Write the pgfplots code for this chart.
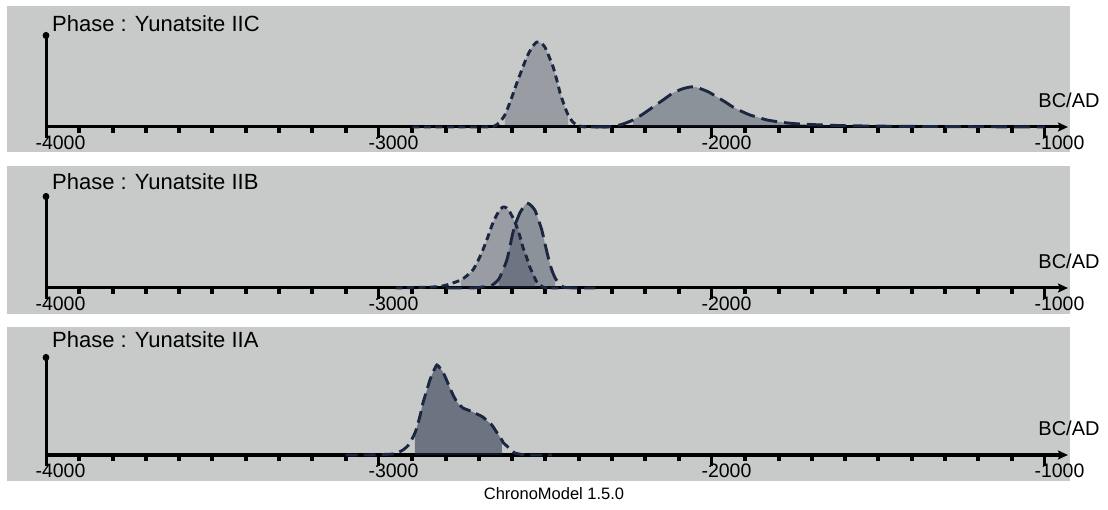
\documentclass[border=0pt]{standalone}
\usepackage{pgfplots}
\pgfplotsset{compat=1.18}
\usepackage{pgfplotstable}
\usepackage{fontspec}
\setmainfont{Liberation Sans}
\usetikzlibrary{arrows.meta}
\definecolor{bggray}{HTML}{C8CAC9}
\definecolor{navy}{HTML}{1B2640}

\pgfplotstableread{
x y
-2900 0
-2700 0
-2657 0.5
-2640 4
-2622 12
-2604 27
-2586 44
-2570 58
-2556 70
-2540 80
-2526 85
-2513 84
-2502 80
-2490 71
-2477 60
-2466 47
-2456 34
-2444 22
-2432 12
-2418 5
-2405 2
-2390 0.5
-2375 0
-2300 0
}\curveA

\pgfplotstableread{
x y
-2350 0
-2297 0.5
-2267 3
-2237 7
-2207 13
-2177 20
-2147 27
-2117 34
-2090 38
-2066 40
-2050 40
-2036 38.5
-2010 35
-1985 30
-1960 25
-1937 20
-1910 15.5
-1886 12
-1860 9.5
-1835 7
-1786 4.5
-1736 3
-1650 1.8
-1586 1.2
-1450 0.7
-1400 0.6
-1285 0.4
-1150 0.2
-1000 0
}\curveB

\pgfplotstableread{
x y
-2950 0
-2898 0.5
-2857 0.8
-2817 1.5
-2787 4
-2754 8
-2737 12
-2718 18
-2703 27
-2688 38
-2673 51
-2658 65
-2643 75
-2628 81
-2617 80
-2607 76
-2596 69
-2586 61
-2577 52
-2568 41
-2557 31
-2547 21
-2532 10
-2526 6
-2508 1
-2490 0
-2450 0
}\curveC

\pgfplotstableread{
x y
-2800 0
-2720 0
-2690 1
-2667 2
-2655 4
-2640 9
-2630 16
-2616 28
-2607 41
-2598 55
-2588 66
-2577 75
-2566 81
-2556 85
-2545 83
-2532 78
-2522 69
-2511 58
-2502 45
-2492 31
-2482 19
-2471 10
-2460 5
-2447 1
-2430 0.3
-2405 0
-2350 0
}\curveD

\pgfplotstableread{
x y
-3100 0
-3036 0
-2990 0.5
-2958 1
-2940 3
-2928 5
-2917 8
-2907 12
-2892 22
-2886 28
-2876 40
-2868 52
-2857 64
-2847 75
-2836 84
-2826 90
-2817 87
-2808 83
-2797 75
-2787 67
-2776 59
-2766 53
-2756 49.5
-2748 47
-2733 45
-2718 43
-2703 40.5
-2688 38
-2675 34
-2661 30
-2649 24
-2631 15
-2626 12
-2616 9
-2604 5
-2592 2
-2570 0.5
-2538 0
-2480 0
}\curveE

\pgfplotsset{panel/.style={
  x=0.333bp, y=1bp,
  xmin=-4000, xmax=-931, ymin=0,
  anchor=south west,
  axis lines=left,
  axis line style={line width=3bp, black},
  x axis line style={-{Stealth[length=10bp,width=9bp,inset=2bp]}},
  y axis line style={-{Circle[length=7bp,width=6.5bp]}},
  xtick={-4000,-3000,-2000,-1000},
  xticklabels={-4000,-3000,-2000,-1000},
  minor x tick num=9,
  ytick=\empty,
  tick align=outside,
  major tick length=11bp, minor tick length=6bp,
  every tick/.style={black},
  every major tick/.append style={line width=3bp},
  every minor tick/.append style={line width=4bp},
  xticklabel style={font=\fontsize{19.5bp}{20bp}\selectfont, anchor=base, xshift=14.5bp, yshift=-11.5bp, inner sep=0pt},
  clip=false,
}}
\tikzset{
  shortd/.style={navy, line width=2.9bp, dash pattern=on 7bp off 4.5bp, smooth, tension=0.4},
  longd/.style={navy, line width=2.9bp, dash pattern=on 16bp off 7bp, smooth, tension=0.4},
  midd/.style={navy, line width=2.9bp, dash pattern=on 12bp off 6bp, smooth, tension=0.4},
}

\begin{document}
\begin{tikzpicture}
\path[use as bounding box] (0,0) rectangle (1108bp,510bp);
\fill[bggray] (6.5bp,358bp) rectangle (1070bp,504bp);
\fill[bggray] (6.5bp,196bp) rectangle (1070bp,344bp);
\fill[bggray] (6.5bp,29bp) rectangle (1070bp,183bp);

% Panel 1
\begin{axis}[panel, ymax=95, at={(46bp,383bp)}]
\addplot[draw=none, fill=navy, fill opacity=0.27, smooth, tension=0.4, restrict x to domain=-2622:-2432] table {\curveA} \closedcycle;
\addplot[draw=none, fill=navy, fill opacity=0.34, smooth, tension=0.4, restrict x to domain=-2237:-1400] table {\curveB} \closedcycle;
\addplot[shortd] table {\curveA};
\addplot[longd] table {\curveB};
\end{axis}

% Panel 2
\begin{axis}[panel, ymax=95, at={(46bp,222bp)}]
\addplot[draw=none, fill=navy, fill opacity=0.27, smooth, tension=0.4, restrict x to domain=-2754:-2532] table {\curveC} \closedcycle;
\addplot[draw=none, fill=navy, fill opacity=0.34, smooth, tension=0.4, restrict x to domain=-2640:-2471] table {\curveD} \closedcycle;
\addplot[shortd] table {\curveC};
\addplot[longd] table {\curveD};
\end{axis}

% Panel 3
\begin{axis}[panel, ymax=101, at={(46bp,55bp)}]
\addplot[draw=none, fill=navy, fill opacity=0.52, smooth, tension=0.4, restrict x to domain=-2892:-2631] table {\curveE} \closedcycle;
\addplot[midd] table {\curveE};
\end{axis}

\begin{scope}[every node/.style={inner sep=0pt}]
\node[anchor=base west, font=\fontsize{22bp}{23bp}\selectfont] at (52bp,478bp) {Phase : Yunatsite IIC};
\node[anchor=base west, font=\fontsize{22bp}{23bp}\selectfont] at (52bp,320bp) {Phase : Yunatsite IIB};
\node[anchor=base west, font=\fontsize{22bp}{23bp}\selectfont] at (52bp,162bp) {Phase : Yunatsite IIA};
\node[anchor=base, font=\fontsize{20bp}{21bp}\selectfont] at (1069bp,402bp) {BC/AD};
\node[anchor=base, font=\fontsize{20bp}{21bp}\selectfont] at (1069bp,241bp) {BC/AD};
\node[anchor=base, font=\fontsize{20bp}{21bp}\selectfont] at (1069bp,74bp) {BC/AD};
\end{scope}
\node[anchor=base, inner sep=0pt, font=\fontsize{16.5bp}{17bp}\selectfont] at (554bp,11bp) {ChronoModel 1.5.0};
\end{tikzpicture}
\end{document}
